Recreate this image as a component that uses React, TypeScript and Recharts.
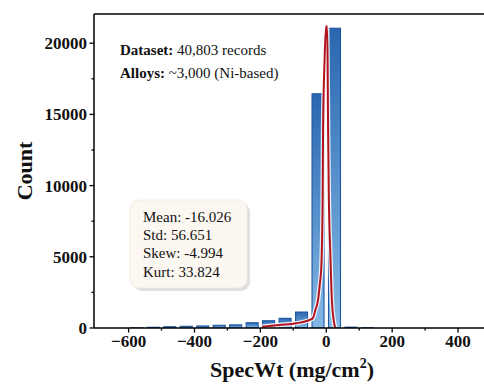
import React from 'react';
import { ComposedChart, Bar, Line, XAxis, YAxis, ReferenceLine } from 'recharts';

const binCenters = [-575, -525, -475, -425, -375, -325, -275, -225, -175, -125, -75, -25, 25, 75, 125];
const binCounts = [10, 50, 90, 120, 140, 190, 220, 370, 510, 680, 1120, 16450, 21050, 60, 15];

const kdeX = [-195, -142, -91, -51, -41, -33, -25, -20, -15, -11, -9.7, -5.2, -0.6, 2.4, 4, 5.5, 7.9, 12, 17, 20.6, 25, 28];
const kdeY = [90, 210, 330, 560, 680, 1260, 1965, 3000, 4300, 9000, 13900, 18800, 21190, 21190, 18800, 13900, 9000, 5500, 1965, 900, 210, 0];

const xTicks = [-600, -500, -400, -300, -200, -100, 0, 100, 200, 300, 400, 500];
const majorXTicks = [-600, -400, -200, 0, 200, 400];
const yTicks = [0, 2500, 5000, 7500, 10000, 12500, 15000, 17500, 20000];
const majorYTicks = [0, 5000, 10000, 15000, 20000];

const xLabel = 'SpecWt (mg/cm';
const yLabel = 'Count';
const datasetLabel = ['Dataset:', ' 40,803 records'];
const alloysLabel = ['Alloys:', ' ~3,000 (Ni-based)'];
const statsLines = ['Mean: -16.026', 'Std: 56.651', 'Skew: -4.994', 'Kurt: 33.824'];

const FONT = '"Liberation Serif", "Times New Roman", serif';
const BAR_PX = 12;

function buildRows() {
  const map = new Map<number, any>();
  binCenters.forEach((x, i) => map.set(x, { x, count: binCounts[i] }));
  kdeX.forEach((x, i) => {
    const r = map.get(x) || { x };
    r.kde = kdeY[i];
    map.set(x, r);
  });
  return Array.from(map.values()).sort((a, b) => a.x - b.x);
}
const rows = buildRows();

const fmt = (v: number) => (v < 0 ? `\u2212${Math.abs(v)}` : `${v}`);

const XTick = (props: any) => {
  const { x, y, payload } = props;
  const v = payload.value;
  const major = majorXTicks.includes(v);
  return (
    <g>
      <line x1={x} x2={x} y1={y} y2={y + (major ? 4.5 : 2.5)} stroke="#000" strokeWidth={1.3} />
      {major && (
        <text x={x} y={y + 19} textAnchor="middle" fontFamily={FONT} fontWeight="bold" fontSize={17} fill="#111">
          {fmt(v)}
        </text>
      )}
    </g>
  );
};

const YTick = (props: any) => {
  const { x, y, payload } = props;
  const v = payload.value;
  const major = majorYTicks.includes(v);
  return (
    <g>
      <line x1={x} x2={x - (major ? 4.5 : 2.5)} y1={y} y2={y} stroke="#000" strokeWidth={1.3} />
      {major && (
        <text x={x - 7} y={y + 6} textAnchor="end" fontFamily={FONT} fontWeight="bold" fontSize={17} fill="#111">
          {fmt(v)}
        </text>
      )}
    </g>
  );
};

const BarShape = (props: any) => {
  const { x, y, width, height } = props;
  if (!height || height <= 0 || !isFinite(height)) return null;
  const cx = x + width / 2;
  return (
    <rect x={cx - BAR_PX / 2} y={y} width={BAR_PX} height={height} fill="url(#barGrad)" stroke="#1c58a3" strokeWidth={1.1} />
  );
};

export default function App() {
  return (
    <div style={{ position: 'absolute', left: 0, top: 0, width: 484, height: 384, overflow: 'hidden', background: '#fff' }}>
      <ComposedChart width={500} height={384} data={rows} margin={{ top: 14, right: 9, bottom: 0, left: 0 }}>
        <defs>
          <linearGradient id="barGrad" x1="0" y1="0" x2="0" y2="1">
            <stop offset="0%" stopColor="#2a66b0" />
            <stop offset="100%" stopColor="#84b9e5" />
          </linearGradient>
        </defs>
        <XAxis
          type="number"
          dataKey="x"
          domain={[-705, 500]}
          ticks={xTicks}
          allowDataOverflow
          height={56}
          tickSize={0}
          tickMargin={0}
          tickLine={false}
          tick={<XTick />}
          axisLine={{ stroke: '#000', strokeWidth: 1.5 }}
          interval={0}
        />
        <YAxis
          type="number"
          domain={[0, 22050]}
          ticks={yTicks}
          allowDataOverflow
          width={94}
          tickSize={0}
          tickMargin={0}
          tickLine={false}
          tick={<YTick />}
          axisLine={{ stroke: '#000', strokeWidth: 1.5 }}
          interval={0}
        />
        <ReferenceLine y={22050} stroke="#000" strokeWidth={1.5} ifOverflow="visible" />
        <Bar dataKey="count" shape={<BarShape />} isAnimationActive={false} />
        <Line type="monotone" dataKey="kde" stroke="#ffffff" strokeOpacity={0.85} strokeWidth={4.5} dot={false} connectNulls isAnimationActive={false} />
        <Line type="monotone" dataKey="kde" stroke="#b3121c" strokeWidth={2} dot={false} connectNulls isAnimationActive={false} />
      </ComposedChart>
      <svg width={484} height={384} style={{ position: 'absolute', left: 0, top: 0, pointerEvents: 'none' }}>
        <text x={120} y={55} fontFamily={FONT} fontSize={15} fill="#111">
          <tspan fontWeight="bold">{datasetLabel[0]}</tspan>
          <tspan>{datasetLabel[1]}</tspan>
        </text>
        <text x={120} y={78} fontFamily={FONT} fontSize={15} fill="#111">
          <tspan fontWeight="bold">{alloysLabel[0]}</tspan>
          <tspan>{alloysLabel[1]}</tspan>
        </text>
        <rect x={133} y={203} width={117} height={88} rx={9} fill="#000" opacity={0.12} />
        <rect x={130} y={200} width={117} height={88} rx={9} fill="#fcf8f1" stroke="#eee6d8" strokeWidth={0.6} />
        {statsLines.map((s, i) => (
          <text key={s} x={143} y={221.5 + i * 18.4} fontFamily={FONT} fontSize={15} fill="#111">
            {s}
          </text>
        ))}
        <text x={292} y={377} textAnchor="middle" fontFamily={FONT} fontSize={22} fontWeight="bold" fill="#111">
          {xLabel}
          <tspan fontSize={14} dy={-9}>2</tspan>
          <tspan dy={9}>)</tspan>
        </text>
        <text x={32} y={171} transform="rotate(-90 32 171)" textAnchor="middle" fontFamily={FONT} fontSize={22} fontWeight="bold" fill="#111">
          {yLabel}
        </text>
      </svg>
    </div>
  );
}
